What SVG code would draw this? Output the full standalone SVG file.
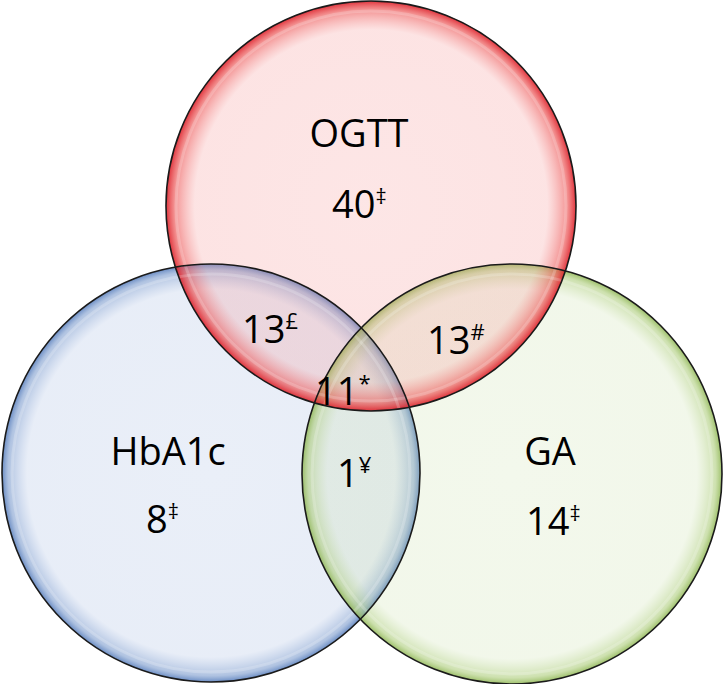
<svg xmlns="http://www.w3.org/2000/svg" width="723" height="684" viewBox="0 0 723 684">
<style>
.lbl{font-family:"Open Sans","Liberation Sans",sans-serif;font-size:38px;fill:#000}
.mid{text-anchor:middle}
.sup{font-size:22px}
.edge{fill:none;stroke:#1a1a1a;stroke-width:1.6}
.gloss{fill:none;stroke:#fff;stroke-opacity:0.2;stroke-width:3}
</style>
<defs>
<radialGradient id="gRed" cx="0.5" cy="0.5" r="0.5">
<stop offset="0" stop-color="rgb(245,140,140)" stop-opacity="0.22"/>
<stop offset="0.86" stop-color="rgb(245,140,140)" stop-opacity="0.24"/>
<stop offset="0.96" stop-color="rgb(235,70,70)" stop-opacity="0.6"/>
<stop offset="1" stop-color="rgb(220,30,40)" stop-opacity="0.9"/>
</radialGradient>
<radialGradient id="gBlue" cx="0.5" cy="0.5" r="0.5">
<stop offset="0" stop-color="rgb(150,175,220)" stop-opacity="0.2"/>
<stop offset="0.88" stop-color="rgb(150,175,220)" stop-opacity="0.22"/>
<stop offset="0.97" stop-color="rgb(110,145,200)" stop-opacity="0.55"/>
<stop offset="1" stop-color="rgb(80,120,185)" stop-opacity="0.85"/>
</radialGradient>
<radialGradient id="gGreen" cx="0.5" cy="0.5" r="0.5">
<stop offset="0" stop-color="rgb(195,220,160)" stop-opacity="0.2"/>
<stop offset="0.88" stop-color="rgb(195,220,160)" stop-opacity="0.22"/>
<stop offset="0.97" stop-color="rgb(165,200,110)" stop-opacity="0.55"/>
<stop offset="1" stop-color="rgb(140,180,80)" stop-opacity="0.85"/>
</radialGradient>
</defs>
<g id="blue">
<circle cx="211" cy="473" r="209" fill="url(#gBlue)"/>
</g>
<g id="green">
<circle cx="512" cy="474" r="210" fill="url(#gGreen)"/>
</g>
<g id="red">
<circle cx="371" cy="206" r="205" fill="url(#gRed)"/>
</g>
<g id="outlines">
<circle class="gloss" cx="211" cy="473" r="199"/>
<circle class="gloss" cx="512" cy="474" r="200"/>
<circle class="gloss" cx="371" cy="206" r="195"/>
<circle class="edge" cx="211" cy="473" r="209"/>
<circle class="edge" cx="512" cy="474" r="210"/>
<circle class="edge" cx="371" cy="206" r="205"/>
</g>
<g id="labels">
<text class="lbl mid" x="359" y="147">OGTT</text>
<text class="lbl" x="332" y="218">40<tspan class="sup" dy="-14">‡</tspan></text>
<text class="lbl" x="242" y="343">13<tspan class="sup" dy="-14">£</tspan></text>
<text class="lbl" x="427" y="354">13<tspan class="sup" dy="-14">#</tspan></text>
<text class="lbl" x="315" y="405">11<tspan class="sup" dy="-14">*</tspan></text>
<text class="lbl" x="337" y="487">1<tspan class="sup" dy="-14">¥</tspan></text>
<text class="lbl mid" x="168" y="465">HbA1c</text>
<text class="lbl" x="146" y="533">8<tspan class="sup" dy="-14">‡</tspan></text>
<text class="lbl mid" x="550" y="465">GA</text>
<text class="lbl" x="526" y="535">14<tspan class="sup" dy="-14">‡</tspan></text>
</g>
</svg>
